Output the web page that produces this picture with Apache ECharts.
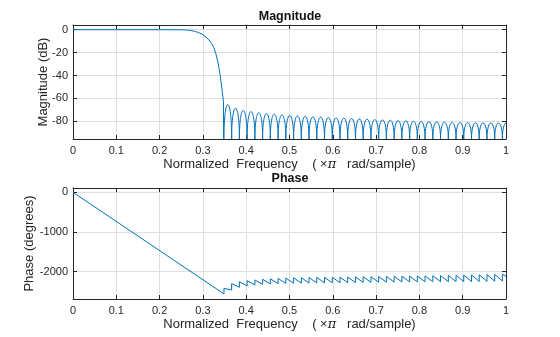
<!DOCTYPE html>
<html>
<head>
<meta charset="utf-8">
<script src="https://cdn.jsdelivr.net/npm/echarts@6/dist/echarts.min.js"></script>
<style>
  html, body { margin: 0; padding: 0; background: #ffffff; }
  #chart { width: 560px; height: 337px; }
</style>
</head>
<body>
<div id="chart"></div>
<script>
// Magnitude response: passband and transition band (normalized frequency, dB)
const passFreq = [0, 0.1, 0.2, 0.24, 0.26, 0.27, 0.28, 0.29, 0.30, 0.31, 0.32, 0.325, 0.33, 0.335, 0.34, 0.345, 0.3475, 0.3486];
const passDb   = [0, 0, 0, -0.05, -0.2, -0.6, -1.3, -2.5, -4.3, -7.3, -12, -15.5, -21, -29, -40, -55, -63, -140];

// Stopband: frequencies of the response nulls, and the peak of each lobe between two nulls
const nullFreq = [0.3486, 0.3664, 0.3843, 0.4021, 0.4201, 0.4379, 0.4557, 0.4737, 0.4915, 0.5095,
                  0.5273, 0.5450, 0.5630, 0.5808, 0.5988, 0.6166, 0.6344, 0.6524, 0.6701, 0.6881,
                  0.7059, 0.7237, 0.7417, 0.7595, 0.7775, 0.7952, 0.8130, 0.8310, 0.8488, 0.8668,
                  0.8846, 0.9024, 0.9204, 0.9381, 0.9561, 0.9739, 0.9917];
const lobePeakDb = [-65.5, -68.5, -70.5, -71.5, -72.5, -73.2, -73.8, -74.4, -74.9, -75.4,
                    -75.8, -76.1, -76.4, -76.7, -77.0, -77.3, -77.6, -77.9, -78.2, -78.5,
                    -78.8, -79.1, -79.4, -79.7, -80.0, -80.2, -80.4, -80.6, -80.8, -81.0,
                    -81.1, -81.2, -81.3, -81.4, -81.5, -81.6];
const nyquistDb = -81.7;   // level at frequency 1, the top of the last half lobe

// Phase response (degrees): linear part, then the value just before and just after each null
const phaseLinFreq = [0, 0.3486];
const phaseLinDeg  = [0, -2560];
const phaseLowDeg  = [-2560, -2461, -2393, -2360, -2335, -2317, -2308, -2300, -2295, -2292,
                      -2289, -2287, -2285, -2283, -2281, -2279, -2277, -2274, -2271, -2268,
                      -2266, -2264, -2262, -2260, -2258, -2256, -2255, -2254, -2253, -2252,
                      -2251, -2250, -2248, -2246, -2243, -2240, -2236];
const phaseHighDeg = [-2420, -2300, -2252, -2227, -2209, -2192, -2180, -2170, -2160, -2152,
                      -2148, -2145, -2143, -2141, -2139, -2137, -2134, -2131, -2128, -2125,
                      -2122, -2119, -2116, -2113, -2110, -2107, -2104, -2101, -2098, -2094,
                      -2090, -2086, -2082, -2078, -2074, -2068, -2062];
const phaseEndDeg = -2120;  // value at frequency 1

// Tick values
const magTicks = [-80, -60, -40, -20, 0];
const phaseTicks = [-2000, -1000, 0];

const magRange = [-95.5, 4.1];
const phaseRange = [-2688, 108];

const LINE = '#0072BD';
const AXIS = '#262626';
const GRID = '#dfdfdf';
const FONT = "'Liberation Sans', Arial, Helvetica, sans-serif";

// Build series data from the arrays above
const passData = passFreq.map((f, i) => [f, passDb[i]]);
const lobeData = [];
for (let i = 0; i < lobePeakDb.length; i++) {
  lobeData.push([nullFreq[i], nullFreq[i + 1], lobePeakDb[i]]);
}
// last lobe is symmetric about the Nyquist frequency; it is cut at the plot edge
const lastNull = nullFreq[nullFreq.length - 1];
lobeData.push([lastNull, 2 - lastNull, nyquistDb]);

const phaseData = phaseLinFreq.map((f, i) => [f, phaseLinDeg[i]]);
nullFreq.forEach((f, i) => {
  if (i > 0) phaseData.push([f, phaseLowDeg[i]]);
  phaseData.push([f, phaseHighDeg[i]]);
});
phaseData.push([1, phaseEndDeg]);

const xName = 'Normalized  Frequency    ( ×{pi|π}   rad/sample)';
const plainNumber = v => String(Math.round(v * 1000) / 1000);

function xAxes(gridIndex) {
  return [
    {
      type: 'value', gridIndex, min: 0, max: 1, interval: 0.1, position: 'bottom',
      axisLine: { show: true, onZero: false, lineStyle: { color: AXIS, width: 1 } },
      axisTick: { show: true, inside: true, length: 4, lineStyle: { color: AXIS } },
      axisLabel: { show: true, margin: 6, fontSize: 11, color: AXIS, fontFamily: FONT, formatter: plainNumber },
      splitLine: { show: true, lineStyle: { color: GRID, width: 1 } },
      name: xName, nameLocation: 'middle', nameGap: 19, nameMoveOverlap: false,
      nameTextStyle: { fontSize: 13, color: AXIS, fontFamily: FONT,
        rich: { pi: { fontSize: 13, fontStyle: 'italic', color: AXIS, fontFamily: "'DejaVu Serif', serif" } } }
    },
    {
      type: 'value', gridIndex, min: 0, max: 1, interval: 0.1, position: 'top',
      axisLine: { show: true, onZero: false, lineStyle: { color: AXIS, width: 1 } },
      axisTick: { show: true, inside: true, length: 4, lineStyle: { color: AXIS } },
      axisLabel: { show: false }, splitLine: { show: false }
    }
  ];
}

function yAxes(gridIndex, range, ticks, name, gap) {
  return [
    {
      type: 'value', gridIndex, min: range[0], max: range[1], position: 'left',
      axisLine: { show: true, onZero: false, lineStyle: { color: AXIS, width: 1 } },
      axisTick: { show: true, inside: true, length: 4, customValues: ticks, lineStyle: { color: AXIS } },
      axisLabel: { show: true, margin: 5, fontSize: 11, color: AXIS, fontFamily: FONT,
                   customValues: ticks, formatter: plainNumber },
      splitLine: { show: true, lineStyle: { color: GRID, width: 1 } },
      name, nameLocation: 'middle', nameGap: gap, nameRotate: 90, nameMoveOverlap: false,
      nameTextStyle: { fontSize: 13, color: AXIS, fontFamily: FONT }
    },
    {
      type: 'value', gridIndex, min: range[0], max: range[1], position: 'right',
      axisLine: { show: true, onZero: false, lineStyle: { color: AXIS, width: 1 } },
      axisTick: { show: true, inside: true, length: 4, customValues: ticks, lineStyle: { color: AXIS } },
      axisLabel: { show: false }, splitLine: { show: false }
    }
  ];
}

const chart = echarts.init(document.getElementById('chart'), null, { renderer: 'canvas' });

chart.setOption({
  backgroundColor: '#ffffff',
  animation: false,
  title: [
    { text: 'Magnitude', left: 290, top: 10, textAlign: 'center', padding: 0,
      textStyle: { fontSize: 12.5, fontWeight: 'bold', color: '#111', fontFamily: FONT } },
    { text: 'Phase', left: 290, top: 172, textAlign: 'center', padding: 0,
      textStyle: { fontSize: 12.5, fontWeight: 'bold', color: '#111', fontFamily: FONT } }
  ],
  grid: [
    { left: 73, width: 433, top: 25, height: 114, show: false },
    { left: 73, width: 433, top: 188, height: 111, show: false }
  ],
  xAxis: [...xAxes(0), ...xAxes(1)],
  yAxis: [
    ...yAxes(0, magRange, magTicks, 'Magnitude (dB)', 23),
    ...yAxes(1, phaseRange, phaseTicks, 'Phase (degrees)', 37)
  ],
  series: [
    {
      type: 'line', xAxisIndex: 0, yAxisIndex: 0, data: passData,
      showSymbol: false, clip: true, lineStyle: { color: LINE, width: 1 }
    },
    {
      type: 'custom', xAxisIndex: 0, yAxisIndex: 0, data: lobeData, clip: true,
      encode: { x: [0, 1], y: 2 },
      renderItem(params, api) {
        const a = api.coord([api.value(0), magRange[0]]);
        const b = api.coord([api.value(1), magRange[0]]);
        const top = api.coord([(api.value(0) + api.value(1)) / 2, api.value(2)]);
        const cy = a[1] + (top[1] - a[1]) / 0.75;
        return {
          type: 'bezierCurve',
          shape: { x1: a[0], y1: a[1], cpx1: a[0], cpy1: cy, cpx2: b[0], cpy2: cy, x2: b[0], y2: b[1] },
          style: { stroke: LINE, fill: null, lineWidth: 1 }
        };
      }
    },
    {
      type: 'line', xAxisIndex: 2, yAxisIndex: 2, data: phaseData,
      showSymbol: false, clip: true, lineStyle: { color: LINE, width: 1 }
    }
  ]
});
</script>
</body>
</html>
